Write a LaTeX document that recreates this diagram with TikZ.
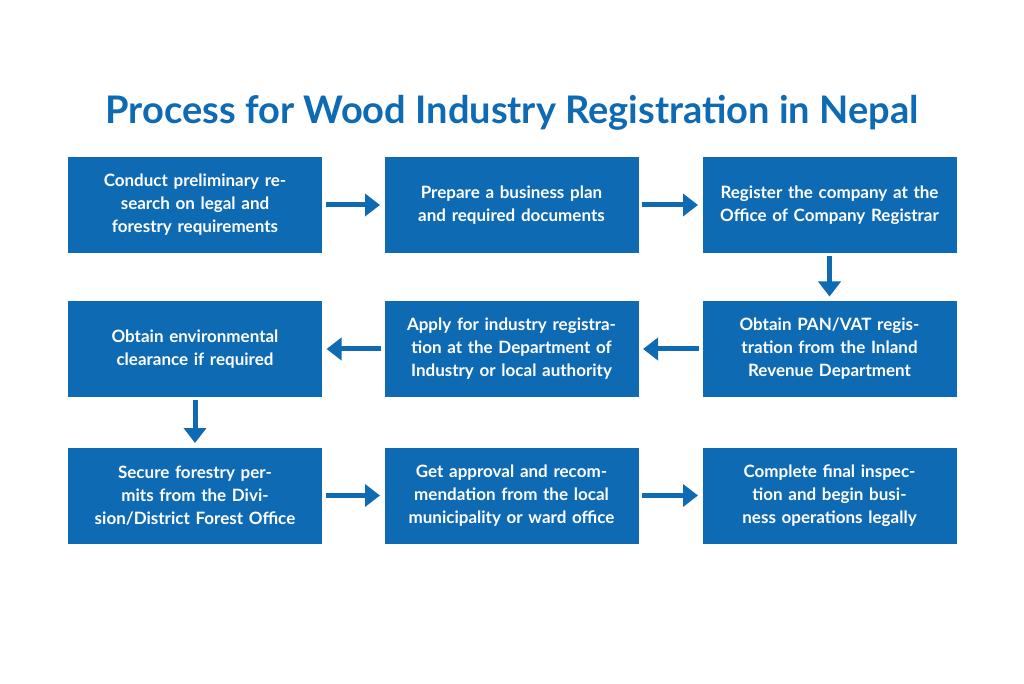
\documentclass[tikz,border=0pt]{standalone}
\usepackage{fontspec}
\setmainfont{Lato}
\usetikzlibrary{positioning, arrows.meta}
\definecolor{woodblue}{HTML}{0F6AB4}

\begin{document}
\begin{tikzpicture} [x = 1pt, y = 1pt, >= {Triangle[length = 15pt, width = 22pt]}, line width = 5pt,
  stepbox/.style = {draw = none, fill = woodblue, text = white, minimum width = 254pt, minimum height = 96pt,
    text width = 240pt, align = center, font = \fontsize{17}{23}\selectfont\bfseries, inner sep = 0pt},
  flow/.style = {->, draw = woodblue, shorten >= 2pt, shorten <= 1pt}]

\useasboundingbox (0,0) rectangle (1024,683);

\node [text = woodblue, font = \fontsize{38}{40}\selectfont\bfseries] (title) at (512,570) {Process for Wood Industry Registration in Nepal};

\node [stepbox] (research) at (195,478) {Conduct preliminary research on legal and forestry requirements};
\node [stepbox] (plan) at (511.5,478) {Prepare a business plan and required documents};
\node [stepbox] (company) at (829.5,478) {Register the company at the Office of Company Registrar};

\node [stepbox] (pan) at (829.5,334) {Obtain PAN/VAT registration from the Inland Revenue Department};
\node [stepbox] (industry) at (511.5,334) {Apply for industry registration at the Department of Industry or local authority};
\node [stepbox] (clearance) at (195,334) {Obtain environmental clearance if required};

\node [stepbox] (forestry) at (195,187.5) {Secure forestry permits from the Division/District Forest Office};
\node [stepbox] (approval) at (511.5,187.5) {Get approval and recommendation from the local municipality or ward office};
\node [stepbox] (final) at (829.5,187.5) {Complete final inspection and begin business operations legally};

\path [flow] (research) -- (plan);
\path [flow] (plan) -- (company);
\path [flow] (company) -- (pan);
\path [flow] (pan) -- (industry);
\path [flow] (industry) -- (clearance);
\path [flow] (clearance) -- (forestry);
\path [flow] (forestry) -- (approval);
\path [flow] (approval) -- (final);

\end{tikzpicture}
\end{document}
